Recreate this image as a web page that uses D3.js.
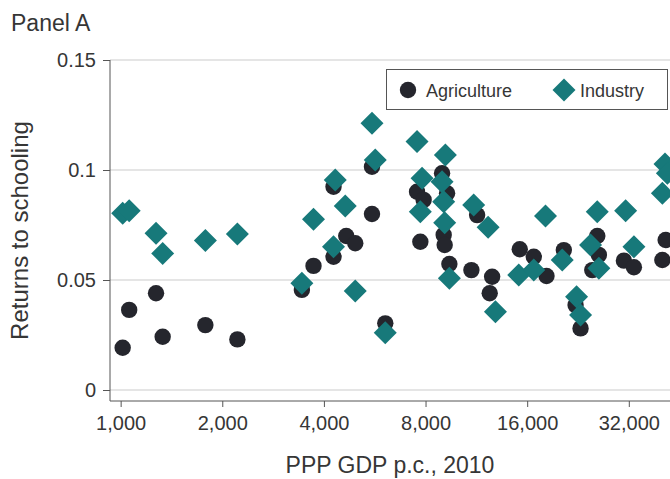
<!DOCTYPE html>
<html>
<head>
<meta charset="utf-8">
<script src="https://cdn.jsdelivr.net/npm/d3@7"></script>
<style>
    body { margin: 0; background: #fff; }
    svg text { font-family: "Liberation Sans", Arial, Helvetica, sans-serif; fill: #363636; }
</style>
</head>
<body>
<div id="content"></div>
<script>
// Agriculture: GDP per capita and returns to schooling
var agriGdp = [1014, 1060, 1273, 1332, 1782, 2217, 3442, 3726, 4271, 4271,
    4658, 4953, 5552, 5552, 6079, 7549, 7897, 7721, 8955, 9265,
    9053, 9115, 9412, 10937, 11372, 12598, 12393, 15211, 16737, 18254,
    20543, 22255, 23026, 24941, 25808, 26091, 30949, 33133, 40224, 41142];
var agriReturns = [0.0192, 0.0364, 0.0440, 0.0242, 0.0295, 0.0230, 0.0455, 0.0564, 0.0606, 0.0924,
    0.0700, 0.0667, 0.0800, 0.1015, 0.0303, 0.0901, 0.0864, 0.0674, 0.0985, 0.0894,
    0.0705, 0.0659, 0.0573, 0.0545, 0.0795, 0.0515, 0.0440, 0.0640, 0.0606, 0.0518,
    0.0636, 0.0386, 0.0280, 0.0545, 0.0700, 0.0614, 0.0588, 0.0558, 0.0591, 0.0682];

// Industry
var indGdp = [1014, 1060, 1273, 1332, 1782, 2217, 3442, 3726, 4271, 4321,
    4626, 4953, 5552, 5678, 6079, 7549, 9158, 7812, 8955, 9053,
    7721, 9115, 9412, 11111, 12260, 12886, 15107, 16737, 18130, 20320,
    22404, 23026, 24653, 25808, 26091, 31310, 33133, 40224, 40950, 41626];
var indReturns = [0.0803, 0.0815, 0.0712, 0.0621, 0.0679, 0.0709, 0.0485, 0.0776, 0.0651, 0.0955,
    0.0836, 0.0450, 0.1212, 0.1045, 0.0260, 0.1129, 0.1068, 0.0962, 0.0947, 0.0856,
    0.0810, 0.0760, 0.0508, 0.0841, 0.0740, 0.0356, 0.0523, 0.0545, 0.0791, 0.0591,
    0.0424, 0.0341, 0.0659, 0.0810, 0.0553, 0.0815, 0.0651, 0.0894, 0.1027, 0.0985];

var xTicks = [1000, 2000, 4000, 8000, 16000, 32000];
var yTicks = [0, 0.05, 0.1, 0.15];
var seriesNames = ["Agriculture", "Industry"];

var panelA = (function () {

    "use strict";

    var width = 670,
        height = 479,
        left = 110,
        top = 60,
        bottom = 401,
        right = 700,
        darkColor = "#25262d",
        tealColor = "#17797a";

    var x = d3.scaleLog().base(2).domain([930, 52000]).range([left, right]),
        y = d3.scaleLinear().domain([-0.005, 0.15]).range([bottom, top]);

    function diamond(r) {
        return "M0," + (-r) + "L" + r + ",0L0," + r + "L" + (-r) + ",0Z";
    }

    function zip(xs, ys) {
        return xs.map(function (v, i) { return {x: v, y: ys[i]}; });
    }

    function drawAxes(svg) {
        // horizontal gridlines
        svg.append("g")
            .selectAll("line")
            .data(yTicks)
            .enter()
            .append("line")
            .attr("x1", left)
            .attr("x2", width)
            .attr("y1", function (d) { return y(d); })
            .attr("y2", function (d) { return y(d); })
            .attr("stroke", "#dcdcdc")
            .attr("stroke-width", 1.5);

        var yAxis = svg.append("g")
            .attr("transform", "translate(" + left + ",0)")
            .call(d3.axisLeft(y).tickValues(yTicks).tickSize(7).tickPadding(7)
                .tickFormat(function (d) { return d === 0 ? "0" : String(d); }));

        var xAxis = svg.append("g")
            .attr("transform", "translate(0," + bottom + ")")
            .call(d3.axisBottom(x).tickValues(xTicks).tickSize(6).tickPadding(9)
                .tickFormat(d3.format(",")));

        [xAxis, yAxis].forEach(function (a) {
            a.select(".domain").attr("stroke", "#555");
            a.selectAll(".tick line").attr("stroke", "#555");
            a.selectAll("text")
                .attr("font-size", 20)
                .attr("fill", "#363636")
                .style("font-family", "'Liberation Sans', Arial, sans-serif");
        });
        // axis line stops at the window edge
        xAxis.select(".domain").attr("d", "M" + left + ",0H" + width);
        yAxis.select(".domain").attr("d", "M0," + top + "V" + bottom);
    }

    function drawPoints(svg) {
        svg.append("g")
            .selectAll("circle")
            .data(zip(agriGdp, agriReturns))
            .enter()
            .append("circle")
            .attr("cx", function (d) { return x(d.x); })
            .attr("cy", function (d) { return y(d.y); })
            .attr("r", 8.2)
            .attr("fill", darkColor);

        svg.append("g")
            .selectAll("path")
            .data(zip(indGdp, indReturns))
            .enter()
            .append("path")
            .attr("transform", function (d) {
                return "translate(" + x(d.x) + "," + y(d.y) + ")";
            })
            .attr("d", diamond(11.5))
            .attr("fill", tealColor);
    }

    function drawLegend(svg) {
        var g = svg.append("g").attr("transform", "translate(386,69)");

        g.append("rect")
            .attr("x", 0.5)
            .attr("y", 0.5)
            .attr("width", 281)
            .attr("height", 40)
            .attr("fill", "#fff")
            .attr("stroke", "#555");

        g.append("circle")
            .attr("cx", 22)
            .attr("cy", 21)
            .attr("r", 8.2)
            .attr("fill", darkColor);

        g.append("text")
            .attr("x", 40)
            .attr("y", 27.5)
            .attr("font-size", 18)
            .text(seriesNames[0]);

        g.append("path")
            .attr("transform", "translate(178,21)")
            .attr("d", diamond(11.5))
            .attr("fill", tealColor);

        g.append("text")
            .attr("x", 194)
            .attr("y", 27.5)
            .attr("font-size", 18)
            .text(seriesNames[1]);
    }

    function render() {
        var svg = d3.select("#content").append("svg")
            .attr("width", width)
            .attr("height", height);

        svg.append("text")
            .attr("x", 11)
            .attr("y", 31)
            .attr("font-size", 23)
            .text("Panel A");

        drawAxes(svg);
        drawPoints(svg);
        drawLegend(svg);

        svg.append("text")
            .attr("x", (left + width) / 2)
            .attr("y", 473)
            .attr("text-anchor", "middle")
            .attr("font-size", 23)
            .text("PPP GDP p.c., 2010");

        svg.append("text")
            .attr("transform", "translate(28," + ((top + bottom) / 2) + ") rotate(-90)")
            .attr("text-anchor", "middle")
            .attr("font-size", 24)
            .text("Returns to schooling");
    }

    return {
        render: render
    };

}());

panelA.render();
</script>
</body>
</html>
